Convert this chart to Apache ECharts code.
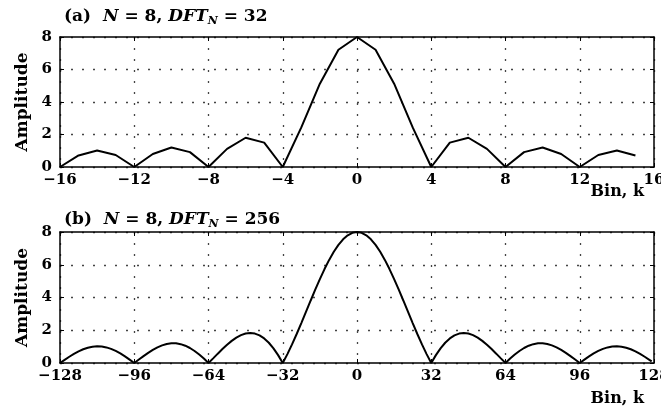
<!DOCTYPE html>
<html>
<head>
<meta charset="utf-8">
<script src="https://cdn.jsdelivr.net/npm/echarts@6/dist/echarts.min.js"></script>
<style>
html,body{margin:0;padding:0;background:#fff}
#chart{width:661px;height:411px}
</style>
</head>
<body>
<div id="chart"></div>
<script>
// (a) N=8, 32-point DFT, bins -16..15
var binsA = [-16,-15,-14,-13,-12,-11,-10,-9,-8,-7,-6,-5,-4,-3,-2,-1,0,1,2,3,4,5,6,7,8,9,10,11,12,13,14,15];
var ampA = [0,0.711,1.020,0.739,0,0.802,1.203,0.915,0,1.115,1.800,1.500,0,2.436,5.126,7.214,
            8,7.214,5.126,2.436,0,1.500,1.800,1.115,0,0.915,1.203,0.802,0,0.739,1.020,0.711];

// (b) N=8, 256-point DFT, bins -128..127 (read every 2 bins)
var binsB = [-128,-126,-124,-122,-120,-118,-116,-114,-112,-110,-108,-106,-104,-102,-100,-98,
             -96,-94,-92,-90,-88,-86,-84,-82,-80,-78,-76,-74,-72,-70,-68,-66,
             -64,-62,-60,-58,-56,-54,-52,-50,-48,-46,-44,-42,-40,-38,-36,-34,
             -32,-30,-28,-26,-24,-22,-20,-18,-16,-14,-12,-10,-8,-6,-4,-2,
             0,2,4,6,8,10,12,14,16,18,20,22,24,26,28,30,
             32,34,36,38,40,42,44,46,48,50,52,54,56,58,60,62,
             64,66,68,70,72,74,76,78,80,82,84,86,88,90,92,94,
             96,98,100,102,104,106,108,110,112,114,116,118,120,122,124,126,127];
var ampB = [0,0.195,0.383,0.557,0.711,0.838,0.934,0.995,1.020,1.005,0.952,0.863,0.739,0.585,0.406,0.209,
            0,0.213,0.423,0.622,0.802,0.956,1.077,1.161,1.203,1.200,1.150,1.055,0.915,0.734,0.516,0.269,
            0,0.283,0.570,0.851,1.115,1.351,1.551,1.703,1.800,1.833,1.797,1.687,1.500,1.236,0.895,0.481,
            0,0.542,1.136,1.771,2.436,3.117,3.802,4.476,5.126,5.737,6.297,6.792,7.214,7.552,7.799,7.950,
            8,7.950,7.799,7.552,7.214,6.792,6.297,5.737,5.126,4.476,3.802,3.117,2.436,1.771,1.136,0.542,
            0,0.481,0.895,1.236,1.500,1.687,1.797,1.833,1.800,1.703,1.551,1.351,1.115,0.851,0.570,0.283,
            0,0.269,0.516,0.734,0.915,1.055,1.150,1.200,1.203,1.161,1.077,0.956,0.802,0.622,0.423,0.213,
            0,0.209,0.406,0.585,0.739,0.863,0.952,1.005,1.020,0.995,0.934,0.838,0.711,0.557,0.383,0.195,0.098];

var yTicks = [0, 2, 4, 6, 8];

var font = 'DejaVu Serif';
var chart = echarts.init(document.getElementById('chart'));

function pairs(xs, ys) {
    var out = [];
    for (var i = 0; i < xs.length; i++) out.push([xs[i], ys[i]]);
    return out;
}
function minus(v) { return String(v).replace('-', '\u2212'); }

var dotted = { show: true, lineStyle: { color: '#444', width: 1.3, type: [2, 9] } };
var frame = { show: true, onZero: false, lineStyle: { color: '#000', width: 1.5 } };
var tickIn = { show: true, inside: true, length: 4, lineStyle: { color: '#000', width: 1 } };

function xAxes(gi, min, max, step) {
    return [{
        type: 'value', gridIndex: gi, min: min, max: max, interval: step, position: 'bottom',
        axisLine: frame, axisTick: tickIn, splitLine: dotted,
        axisLabel: { color: '#000', fontFamily: font, fontWeight: 'bold', fontSize: 15, margin: 6, formatter: minus }
    }, {
        type: 'value', gridIndex: gi, min: min, max: max, interval: step, position: 'top',
        axisLine: frame, axisTick: tickIn, splitLine: { show: false }, axisLabel: { show: false }
    }];
}
function yAxes(gi) {
    return [{
        type: 'value', gridIndex: gi, min: yTicks[0], max: yTicks[yTicks.length - 1], interval: 2, position: 'left',
        name: 'Amplitude', nameLocation: 'middle', nameGap: 29,
        nameTextStyle: { color: '#000', fontFamily: font, fontWeight: 'bold', fontSize: 17 },
        axisLine: frame, axisTick: tickIn, splitLine: dotted,
        axisLabel: { color: '#000', fontFamily: font, fontWeight: 'bold', fontSize: 15, margin: 8 }
    }, {
        type: 'value', gridIndex: gi, min: yTicks[0], max: yTicks[yTicks.length - 1], interval: 2, position: 'right',
        axisLine: frame, axisTick: tickIn, splitLine: { show: false }, axisLabel: { show: false }
    }];
}

function title(tag, n, y) {
    return {
        type: 'text', left: 64, top: y,
        style: {
            text: '{b|' + tag + '  }{i|N}{b| = 8, }{i|DFT}{s|N}{b| = ' + n + '}',
            rich: {
                b: { fontFamily: font, fontWeight: 'bold', fontSize: 17, fill: '#000' },
                i: { fontFamily: font, fontWeight: 'bold', fontStyle: 'italic', fontSize: 17, fill: '#000' },
                s: { fontFamily: font, fontWeight: 'bold', fontStyle: 'italic', fontSize: 11, fill: '#000', padding: [10, 0, 0, 0] }
            }
        }
    };
}
function binLabel(y) {
    return {
        type: 'text', right: 17, top: y,
        style: { text: 'Bin, k', fontFamily: font, fontWeight: 'bold', fontSize: 16, fill: '#000' }
    };
}

option = {
    backgroundColor: '#fff',
    animation: false,
    grid: [
        { left: 60, right: 7, top: 37, height: 130, outerBoundsMode: 'none' },
        { left: 60, right: 7, top: 232, height: 131, outerBoundsMode: 'none' }
    ],
    xAxis: xAxes(0, -16, 16, 4).concat(xAxes(1, -128, 128, 32)),
    yAxis: yAxes(0).concat(yAxes(1)),
    series: [
        { type: 'line', xAxisIndex: 0, yAxisIndex: 0, data: pairs(binsA, ampA), showSymbol: false,
          lineStyle: { color: '#000', width: 2 } },
        { type: 'line', xAxisIndex: 2, yAxisIndex: 2, data: pairs(binsB, ampB), showSymbol: false,
          lineStyle: { color: '#000', width: 2 } }
    ],
    graphic: [
        title('(a)', 32, 8),
        title('(b)', 256, 211),
        binLabel(184),
        binLabel(391)
    ]
};
chart.setOption(option);
window.addEventListener('resize', function () {
    chart.resize();
});
</script>
</body>
</html>
